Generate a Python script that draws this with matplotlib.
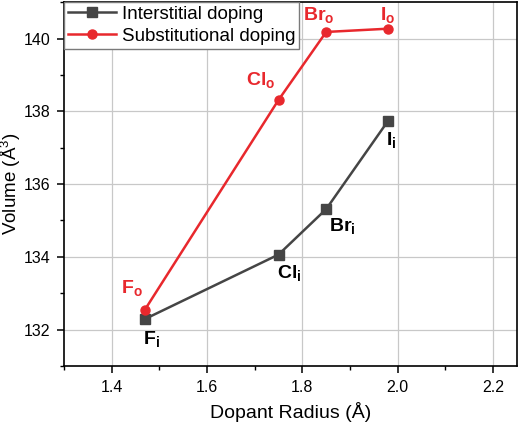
import matplotlib
matplotlib.use("Agg")
import matplotlib.pyplot as plt
from matplotlib.ticker import MultipleLocator

plt.rcParams.update({
    "font.family": ["Liberation Sans", "DejaVu Sans"],
    "mathtext.fontset": "custom",
    "mathtext.rm": "Liberation Sans",
    "mathtext.bf": "Liberation Sans:bold",
    "mathtext.it": "Liberation Sans:italic",
})

radius = [1.47, 1.75, 1.85, 1.98]
vol_inter = [132.29, 134.06, 135.31, 137.74]
vol_subst = [132.55, 138.31, 140.18, 140.27]
lab_inter = [r"$\mathbf{F_i}$", r"$\mathbf{Cl_i}$", r"$\mathbf{Br_i}$", r"$\mathbf{I_i}$"]
lab_subst = [r"$\mathbf{F_o}$", r"$\mathbf{Cl_o}$", r"$\mathbf{Br_o}$", r"$\mathbf{I_o}$"]
# label positions (data coords)
pos_inter = [(1.484, 131.75), (1.772, 133.55), (1.884, 134.85), (1.986, 137.2)]
pos_subst = [(1.442, 133.15), (1.713, 138.85), (1.835, 140.65), (1.978, 140.65)]

GREY = "#454545"
RED = "#e8282d"

fig = plt.figure(figsize=(5.2, 4.25), dpi=100)
ax = fig.add_axes([0.123, 0.139, 0.871, 0.856])

ax.plot(radius, vol_inter, color=GREY, lw=1.8, marker="s", ms=6.5, label="Interstitial doping", zorder=3)
ax.plot(radius, vol_subst, color=RED, lw=1.8, marker="o", ms=6.5, label="Substitutional doping", zorder=3)

for (x, y), t in zip(pos_inter, lab_inter):
    ax.text(x, y, t, color="black", fontsize=14, ha="center", va="center")
for (x, y), t in zip(pos_subst, lab_subst):
    ax.text(x, y, t, color=RED, fontsize=14, ha="center", va="center")

ax.set_xlim(1.3, 2.25)
ax.set_ylim(131, 141)
ax.xaxis.set_major_locator(MultipleLocator(0.2))
ax.xaxis.set_minor_locator(MultipleLocator(0.1))
ax.yaxis.set_major_locator(MultipleLocator(2))
ax.yaxis.set_minor_locator(MultipleLocator(1))
ax.tick_params(which="both", direction="out", labelsize=11.5, colors="black")
ax.tick_params(which="major", length=5, width=1.1, pad=5)
ax.tick_params(which="minor", length=3, width=1.0)
ax.grid(True, which="major", color="#c8c8c8", lw=0.9)
ax.set_axisbelow(True)
for s in ax.spines.values():
    s.set_linewidth(1.2)
ax.set_xlabel("Dopant Radius (Å)", fontsize=14, labelpad=5)
ax.set_ylabel("Volume (Å$^3$)", fontsize=13.5)
ax.yaxis.label.set_va("center")
ax.yaxis.set_label_coords(-0.116, 0.5)

leg = ax.legend(loc="upper left", fontsize=13.5, fancybox=False, edgecolor="#7a7a7a",
                borderaxespad=0, handlelength=2.6, borderpad=0.2, labelspacing=0.25,
                handletextpad=0.3, framealpha=1)
leg.get_frame().set_linewidth(1.0)

fig.savefig("out.png", dpi=100)
